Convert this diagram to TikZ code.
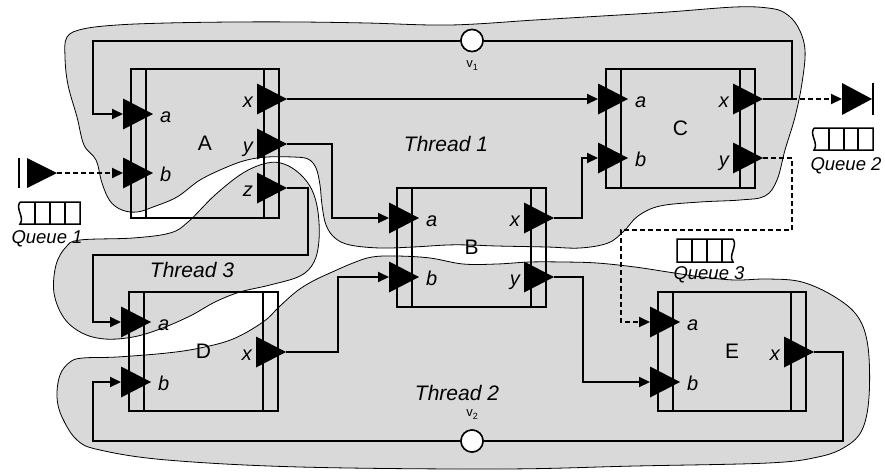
\documentclass[tikz,border=0pt]{standalone}
\usepackage{fontspec}
\setmainfont{Liberation Sans}
\usetikzlibrary{arrows.meta}
\definecolor{threadgray}{RGB}{217,217,217}
\newcommand{\PortIn}[4]{%
  \coordinate (#1) at (#2,#3);
  \fill (#2,#3-15.5) -- (#2+30,#3) -- (#2,#3+15.5) -- cycle;
  \node[plabel, anchor=base west] (#1l) at (#2+37,#3+8) {#4};}
\newcommand{\PortOut}[4]{%
  \coordinate (#1) at (#2,#3);
  \fill (#2-30,#3-15.5) -- (#2,#3) -- (#2-30,#3+15.5) -- cycle;
  \node[plabel, anchor=base east] (#1l) at (#2-34,#3+8) {#4};}
\newcommand{\Actor}[6]{%
  \draw[boxline] (#2,#3) rectangle (#4,#5);
  \draw[boxline] (#2+15,#3) -- (#2+15,#5) (#4-15,#3) -- (#4-15,#5);
  \node[blabel] (#1) at ({(#2+#4)/2},{(#3+#5)/2}) {#6};}
\begin{document}
\begin{tikzpicture}[x=1pt,y=-1pt,
  thread/.style={fill=threadgray, draw=black, line width=0.8pt},
  boxline/.style={line width=2pt},
  wire/.style={line width=2pt},
  conn/.style={line width=2pt, -{Triangle[length=11pt,width=10pt]}},
  dconn/.style={conn, dash pattern=on 5pt off 3pt},
  dwire/.style={wire, dash pattern=on 5pt off 3pt},
  plabel/.style={font=\fontsize{20}{24}\selectfont\itshape, inner sep=0pt},
  blabel/.style={font=\fontsize{21}{25}\selectfont, inner sep=0pt},
  tlabel/.style={font=\fontsize{21}{25}\selectfont\itshape, inner sep=0pt, anchor=base},
  qlabel/.style={font=\fontsize{18.5}{22}\selectfont\itshape, inner sep=0pt, anchor=base},
  vnode/.style={circle, draw, fill=white, line width=1.5pt, minimum size=22pt, inner sep=0pt},
  vlabel/.style={font=\fontsize{13}{15}\selectfont, inner sep=0pt},
  qline/.style={line width=1.5pt},
]
\useasboundingbox (0,0) rectangle (885,472);

% threads
\draw[thread] plot[smooth cycle, tension=0.6] coordinates {
 (67,37) (83,29) (117,25) (167,23) (233,22) (300,22) (367,23) (450,25) (535,20)
 (602,16) (668,12) (735,7) (768,8) (785,13) (798,27) (805,50) (802,83) (795,117)
 (785,150) (777,180) (765,196) (740,200) (700,202) (660,206) (638,216) (624,231)
 (608,243) (580,248) (547,247) (497,246) (470,245) (447,245) (413,247) (380,248)
 (350,245) (335,238) (326,225) (322,205) (320,185) (316,168) (308,159) (293,157)
 (267,157) (247,160) (227,167) (200,180) (177,197) (153,207) (137,212) (122,210)
 (110,201) (102,183) (96,160) (84,145) (77,117) (68,85) (65,57)};
\draw[thread] plot[smooth cycle, tension=0.6] coordinates {
 (80,240) (133,238) (170,233) (188,222) (215,195) (243,173) (267,163) (284,164)
 (300,174) (312,190) (318,212) (319,240) (314,262) (300,276) (270,285) (240,292)
 (215,302) (190,316) (160,329) (133,337) (105,339) (82,333) (64,318) (54,293)
 (56,265) (66,247)};
\draw[thread] plot[smooth cycle, tension=0.6] coordinates {
 (83,358) (117,357) (167,353) (200,348) (233,339) (263,322) (280,306) (297,291)
 (313,281) (330,273) (353,263) (372,257) (397,256) (430,258) (463,264) (497,264)
 (530,262) (563,262) (597,263) (635,267) (668,272) (702,277) (735,280) (768,279)
 (802,282) (835,297) (858,317) (868,347) (869,397) (862,430) (845,447) (818,457)
 (768,463) (635,466) (500,469) (300,467) (167,460) (100,450) (77,440) (62,417)
 (57,397) (60,375) (70,362)};

% thread labels
\node[tlabel] (t1) at (446,151) {Thread 1};
\node[tlabel] (t3) at (192,277) {Thread 3};
\node[tlabel] (t2) at (457,400) {Thread 2};

% actors
\Actor{A}{131}{69}{279}{218}{A}
\Actor{B}{397}{188}{546}{307}{B}
\Actor{C}{606}{69}{755}{188}{C}
\Actor{D}{129}{292}{278}{411}{D}
\Actor{E}{658}{292}{806}{411}{E}

% ports
\PortIn{Aa}{123}{114}{a}
\PortIn{Ab}{123}{173}{b}
\PortOut{Ax}{287}{99}{x}
\PortOut{Ay}{287}{144}{y}
\PortOut{Az}{287}{188}{z}
\PortIn{Ba}{389}{218}{a}
\PortIn{Bb}{389}{277}{b}
\PortOut{Bx}{554}{218}{x}
\PortOut{By}{554}{277}{y}
\PortIn{Ca}{598}{99}{a}
\PortIn{Cb}{598}{158}{b}
\PortOut{Cx}{763}{99}{x}
\PortOut{Cy}{763}{158}{y}
\PortIn{Da}{121}{322}{a}
\PortIn{Db}{121}{382}{b}
\PortOut{Dx}{286}{352}{x}
\PortIn{Ea}{650}{322}{a}
\PortIn{Eb}{650}{382}{b}
\PortOut{Ex}{814}{352}{x}

% source of queue 1 and sink of queue 2
\draw[wire] (19,158) -- (19,188);
\fill (27,158) -- (57,173) -- (27,188) -- cycle;
\coordinate (Q1) at (57,173);
\coordinate (Q2) at (842,99);
\fill (842,83) -- (872,99) -- (842,115) -- cycle;
\draw[wire] (873,83) -- (873,115);

% queues
\draw[qline] (20,202) -- (80,202) -- (80,224) -- (20,224) .. controls (25,217) and (15,209) .. (20,202);
\draw[qline] (35,202) -- (35,224) (50,202) -- (50,224) (65,202) -- (65,224);
\node[qlabel] (q1) at (47,243) {Queue 1};
\draw[qline] (814,128) -- (873,128) -- (873,150) -- (814,150) .. controls (819,143) and (809,135) .. (814,128);
\draw[qline] (829,128) -- (829,150) (844,128) -- (844,150) (858,128) -- (858,150);
\node[qlabel] (q2) at (846,170) {Queue 2};
\draw[qline] (733,239) -- (677,239) -- (677,262) -- (733,262) .. controls (728,255) and (738,246) .. (733,239);
\draw[qline] (692,239) -- (692,262) (707,239) -- (707,262) (722,239) -- (722,262);
\node[qlabel] (q3) at (709,279) {Queue 3};

% nodes v1 v2
\node[vnode] (v1) at (472,40.5) {};
\node[vnode] (v2) at (472,441) {};
\node[vlabel] (v1l) at (472,66) {v\raisebox{-3pt}{\fontsize{9}{9}\selectfont 1}};
\node[vlabel] (v2l) at (472,415) {v\raisebox{-3pt}{\fontsize{9}{9}\selectfont 2}};

% connectors
\coordinate (Cxj) at (792,99);
\coordinate (L1) at (93,40.5);
\coordinate (R2) at (843,441);
\coordinate (L2) at (93,441);
\draw[wire] (Cx) -- (Cxj) |- (v1);
\draw[conn] (v1) -- (L1) |- (Aa);
\draw[dconn] (Cxj) -- (Q2);
\draw[dconn] (Cy) -| (792,230) -- (621,230) |- (Ea);
\draw[conn] (Ax) -- (Ca);
\draw[conn] (Ay) -| (332,218) -- (Ba);
\draw[conn] (Az) -| (308,255) -- (93,255) |- (Da);
\draw[conn] (Dx) -| (338,277) -- (Bb);
\draw[conn] (Bx) -| (582,158) -- (Cb);
\draw[conn] (By) -| (583,382) -- (Eb);
\draw[wire] (Ex) -| (R2) -- (v2);
\draw[conn] (v2) -- (L2) |- (Db);
\draw[dconn] (Q1) -- (Ab);

% redraw circles on top
\node[vnode] at (v1) {};
\node[vnode] at (v2) {};
\end{tikzpicture}
\end{document}
